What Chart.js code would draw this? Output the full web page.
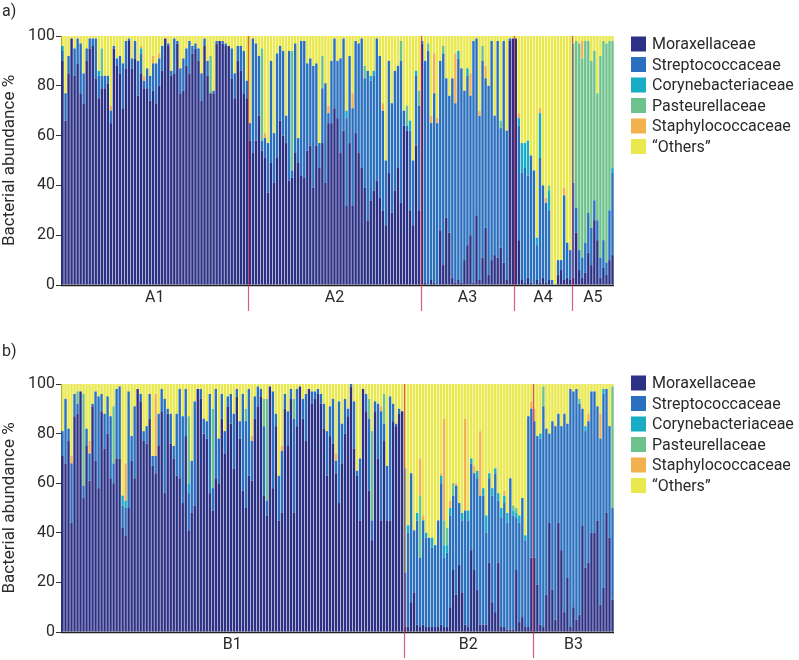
<!DOCTYPE html>
<html>
<head>
<meta charset="utf-8">
<script src="https://cdn.jsdelivr.net/npm/chart.js@4.4.1/dist/chart.umd.min.js"></script>
<style>
  body { margin: 0; background: #fff; width: 799px; height: 660px; overflow: hidden; }
  .panel { position: absolute; left: 0; width: 799px; height: 330px; }
</style>
</head>
<body>
<div class="panel" style="top:0"><canvas id="chartA" width="799" height="330"></canvas></div>
<div class="panel" style="top:330px"><canvas id="chartB" width="799" height="330"></canvas></div>
<script>
// families, colours
var families = ['Moraxellaceae', 'Streptococcaceae', 'Corynebacteriaceae', 'Pasteurellaceae', 'Staphylococcaceae', '\u201cOthers\u201d'];
var colors = ['#2c3185', '#2a70be', '#18acc5', '#6dc18a', '#f2b14c', '#e9e84c'];

// panel a groups
var aGroups = ['A1', 'A2', 'A3', 'A4', 'A5'];
var aGroupSizes = [62, 57, 31, 19, 14];

var aMorax = [
  // A1
  90,66,85,99,84,89,77,73,90,95, 96,83,75,79,79,81,65,95,88,85, 71,87,98,87,91,76,85,79,79,74,
  78,73,80,86,99,96,84,85,97,77, 78,88,85,93,95,90,74,96,84,77, 77,97,98,97,96,96,83,75,90,86, 77,75,
  // A2
  58,53,58,68,54,51,37,49,41,51, 66,60,57,42,43,53,49,44,43,54, 56,39,56,47,57,41,65,65,71,67,
  53,62,32,57,32,61,53,47,39,26, 34,38,42,35,30,24,45,29,38,47, 33,64,62,30,24,56,30,
  // A3
  97,1,0,2,1,0,22,8,27,21, 3,1,2,1,10,16,20,1,28,2, 11,23,4,10,12,11,15,9,2,98, 99,
  // A4
  99,18,2,1,3,1,0,2,1,3, 1,2,0,0,4,6,2,3,2,
  // A5
  3,21,6,3,5,13,8,26,18,3, 7,4,10,12
];
var aStrep = [
  4,11,7,0,11,10,20,12,5,4, 3,16,9,5,5,3,5,1,3,7, 18,11,1,4,7,14,8,3,8,10,
  11,16,11,10,0,1,2,14,1,10, 13,7,13,3,2,5,11,3,6,0, 1,1,0,1,1,0,12,10,6,10, 17,7,
  7,46,39,24,4,8,20,41,20,42, 30,34,11,52,3,44,10,54,55,35, 35,49,33,10,22,40,4,25,28,23,
  38,37,35,35,39,37,44,52,44,60, 48,46,57,57,40,26,45,44,48,41, 57,6,2,32,26,28,42,
  1,89,94,63,76,65,68,85,56,55, 80,72,89,86,68,68,56,97,71,66, 79,60,76,88,56,87,48,89,60,1, 0,
  0,46,43,46,41,51,46,14,50,37, 32,28,2,0,6,4,34,14,12,
  38,10,8,8,12,16,15,8,8,8, 11,5,20,33
];
var aCoryne = [
  2,0,0,0,0,0,0,0,0,0, 0,0,2,0,0,0,0,0,0,0, 0,0,0,0,0,0,2,0,0,0,
  0,0,0,0,0,0,0,0,0,0, 0,0,0,0,0,0,0,0,0,0, 0,0,0,0,0,0,0,0,0,0, 0,0,
  0,0,0,0,0,0,0,0,0,0, 0,0,0,0,0,0,0,0,0,0, 0,0,0,0,0,0,0,0,0,0,
  0,0,3,0,0,0,0,0,0,0, 2,2,0,0,0,0,0,0,0,0, 0,0,0,4,0,2,0,
  0,0,0,0,0,0,0,0,0,0, 0,0,3,0,0,3,0,0,0,0, 0,0,0,0,0,0,0,0,0,0, 0,
  0,3,12,10,14,0,0,3,18,0, 0,8,0,0,0,0,0,0,0,
  0,0,0,0,0,0,0,0,0,0, 0,0,0,2
];
var aPasteur = [
  0,0,0,0,0,0,0,0,0,0, 0,0,0,11,0,0,0,0,0,0, 0,0,0,0,0,0,0,0,0,0,
  0,0,0,0,0,0,0,0,0,0, 0,0,0,0,0,0,0,0,0,15, 0,0,0,0,0,0,0,0,0,0, 0,0,
  0,0,0,0,37,0,0,0,0,0, 0,0,0,0,48,0,0,0,0,0, 0,0,0,0,13,0,0,0,0,0,
  0,0,0,0,0,0,0,0,5,0, 0,0,0,0,0,0,0,0,0,0, 8,0,8,0,0,0,6,
  0,0,3,0,0,0,0,3,0,0, 0,0,0,0,0,0,0,0,0,0, 6,0,0,0,0,0,3,0,0,0, 0,
  0,0,0,0,0,0,0,0,0,0, 0,2,0,0,0,0,0,0,0,
  56,67,83,80,81,69,67,60,51,81, 80,88,68,51
];
var aStaph = [
  0,0,0,0,0,0,0,0,0,0, 0,0,0,0,0,0,2,0,0,0, 0,0,0,0,0,0,1,2,0,0,
  3,0,2,0,0,0,0,0,0,0, 0,0,0,0,0,0,0,0,0,0, 0,0,0,0,0,0,0,0,0,0, 0,0,
  0,0,0,0,0,2,0,0,0,0, 0,0,0,0,0,0,0,0,0,0, 0,0,0,0,0,0,3,0,0,0,
  0,0,0,0,6,0,0,0,0,0, 0,0,0,0,3,0,0,0,0,0, 0,0,0,0,0,0,0,
  0,0,0,3,16,2,0,0,0,0, 0,20,0,0,0,0,9,0,0,2, 0,5,0,0,0,0,0,0,0,0, 0,
  0,2,0,0,0,0,0,0,2,0, 2,0,0,0,0,0,3,0,0,
  0,0,0,7,0,0,0,0,0,0, 0,0,0,0
];
var aOthers = [
  4,23,8,1,5,1,3,15,5,1, 1,1,14,5,16,16,28,4,9,8, 11,2,1,9,2,10,4,16,13,16,
  8,11,7,4,1,3,14,1,2,13, 9,5,2,4,3,5,15,1,10,8, 22,2,2,2,3,4,5,15,4,4, 6,18,
  35,1,3,8,5,39,43,10,39,7, 4,6,32,6,6,3,41,2,2,11, 9,12,11,43,8,19,28,10,1,10,
  9,1,30,8,23,2,3,1,12,14, 16,14,1,8,27,50,10,27,14,12, 2,30,28,34,50,14,22,
  2,10,3,32,7,33,10,4,17,24, 17,7,6,13,22,13,15,2,1,30, 4,12,20,2,32,2,34,2,38,1, 1,
  1,31,43,43,42,48,54,81,29,60, 65,60,98,100,90,90,61,83,86,
  3,2,3,2,2,2,10,6,23,8, 2,3,2,2
];

// panel b groups
var bGroups = ['B1', 'B2', 'B3'];
var bGroupSizes = [114, 43, 27];

var bMorax = [
  // B1
  71,68,77,44,87,88,97,54,75,61, 91,69,58,89,74,80,62,60,70,70, 42,39,50,69,62,98,93,77,76,86,
  67,64,75,89,56,88,76,70,63,62, 52,79,41,48,51,98,94,80,78,56, 49,62,60,86,72,91,84,66,95,78,
  57,50,63,61,86,91,95,55,47,99, 58,83,45,48,90,75,94,48,83,99, 86,77,98,92,94,96,92,82,63,79,
  76,64,52,68,80,87, 99,74,63,45,98,89,57,37,89,70, 45,77,45,45,85,83,88,89,
  // B2
  2,2,12,16,3,2,3,2,2,2, 2,2,3,2,2,10,25,15,27,16, 3,2,33,25,17,3,3,3,28,12,
  8,28,2,2,1,1,1,25,4,6, 2,2,30,
  // B3
  30,19,3,2,15,44,17,5,44,33, 8,22,2,10,5,7,43,26,28,40, 40,45,11,18,48,38,13
];
var bStrep = [
  10,26,5,24,9,4,0,5,7,11, 1,28,37,7,14,15,25,8,28,29, 9,11,47,10,29,0,3,4,7,10,
  4,7,13,9,38,2,12,5,25,36, 35,19,15,21,42,0,4,6,7,40, 9,36,18,10,9,4,12,22,3,7,
  39,35,35,16,9,8,3,28,6,0, 39,5,18,25,6,14,4,38,15,0, 8,19,0,5,3,2,4,10,18,12,
  18,5,41,16,14,3, 1,19,2,25,0,7,29,8,4,22, 44,7,22,50,7,1,2,0,
  22,38,52,25,42,28,42,36,36,32, 33,43,57,28,30,37,30,44,25,29, 46,43,35,39,45,52,52,37,34,43,
  56,25,44,50,43,61,46,21,40,48, 35,85,60,
  55,60,75,89,67,36,68,78,44,50, 80,62,96,87,93,85,47,55,57,57, 57,46,67,78,50,45,37
];
var bCoryne = [
  0,0,0,0,0,0,0,0,0,0, 0,0,0,0,0,0,0,0,0,0, 4,3,0,0,0,0,0,0,0,0,
  0,0,0,0,0,0,0,0,0,0, 0,0,4,0,0,0,0,0,0,0, 0,0,0,0,0,0,0,0,0,0,
  0,0,0,0,0,0,0,0,0,0, 0,0,0,0,0,0,0,0,0,0, 0,0,0,0,0,0,0,0,0,0,
  0,0,0,0,0,0, 0,0,0,0,0,0,0,0,0,0, 0,0,0,0,0,0,0,0,
  0,3,0,0,3,0,0,2,0,4, 0,0,3,5,3,3,0,0,0,3, 0,4,2,0,3,0,3,7,2,3,
  2,3,4,3,4,0,2,2,3,0, 2,0,0,
  0,0,2,0,0,0,0,0,0,0, 0,0,0,0,0,0,0,2,0,0, 0,0,0,2,0,0,0
];
var bPasteur = [
  0,0,0,0,0,5,0,37,0,0, 0,0,0,0,0,0,0,23,0,0, 0,0,0,0,0,0,0,0,0,0,
  0,0,0,0,0,0,0,0,0,0, 0,0,27,0,0,0,0,0,0,0, 32,0,0,0,0,0,0,0,0,0,
  0,5,0,0,0,0,0,11,41,0, 0,0,0,0,0,0,0,8,0,0, 0,0,0,0,0,0,0,0,0,0,
  0,0,0,0,0,0, 0,0,0,0,0,0,8,36,0,0, 0,12,0,0,0,0,0,0,
  42,0,0,0,0,25,0,0,0,0, 0,0,0,10,7,0,5,0,0,0, 0,0,0,0,0,0,0,0,0,0,
  0,0,0,0,0,0,2,2,0,0, 0,0,0,
  0,0,0,8,0,0,0,0,0,0, 0,0,0,0,0,2,0,0,0,0, 0,0,0,0,0,0,49
];
var bStaph = [
  0,0,0,3,0,0,0,0,0,5, 0,0,0,0,0,0,0,0,0,0, 0,15,0,0,0,0,0,0,0,0,
  0,25,0,0,0,0,0,0,0,0, 0,0,0,0,0,0,0,0,0,0, 0,0,0,0,0,0,0,0,0,0,
  0,0,0,2,0,0,0,0,0,0, 0,0,0,2,0,0,0,0,0,0, 0,0,0,0,0,0,0,0,0,0,
  0,3,0,0,0,0, 0,0,0,0,0,0,0,0,0,0, 2,0,0,0,0,0,0,0,
  0,0,0,0,0,15,2,0,0,0, 0,0,1,41,0,3,0,1,0,0, 37,0,0,3,0,26,0,0,0,0,
  0,0,0,2,0,0,0,0,0,0, 0,0,3,
  5,0,0,0,0,0,0,0,0,0, 0,0,0,0,0,0,0,0,3,0, 0,0,10,0,0,0,0
];
var bOthers = [
  19,6,18,29,4,3,3,4,18,23, 8,3,5,4,12,5,13,9,2,1, 45,32,3,21,9,2,4,19,17,4,
  29,4,12,2,6,10,12,25,12,2, 13,2,13,31,7,2,2,14,15,4, 10,2,22,4,19,5,4,12,2,15,
  4,10,2,21,5,1,2,6,6,1, 3,12,37,25,4,11,2,6,2,1, 6,4,2,3,3,2,4,8,19,9,
  6,28,7,16,6,10, 0,7,35,30,2,4,6,19,7,8, 9,4,33,5,8,16,10,11,
  34,57,36,59,52,30,53,60,62,62, 65,55,36,14,58,47,40,40,48,52, 14,51,30,33,35,19,42,53,36,42,
  34,44,50,43,52,38,49,50,53,46, 61,13,7,
  10,21,20,1,18,20,15,17,12,17, 12,16,2,3,2,6,10,17,12,3, 3,9,12,2,2,17,1
];

var font = 'Roboto, "Liberation Sans", sans-serif';
var textColor = '#2a2a2a';

// draws axis base line, group separators + labels, legend and panel letter
var overlay = {
  id: 'overlay',
  afterDatasetsDraw: function(chart, args, opts) {
    var ctx = chart.ctx, ca = chart.chartArea, x = chart.scales.x;
    var n = chart.data.labels.length;
    function edge(i) {
      if (i <= 0) return ca.left;
      if (i >= n) return ca.right;
      return (x.getPixelForValue(i - 1) + x.getPixelForValue(i)) / 2;
    }
    ctx.save();
    ctx.strokeStyle = '#222';
    ctx.lineWidth = 1.3;
    ctx.beginPath();
    ctx.moveTo(ca.left, ca.bottom + 0.5);
    ctx.lineTo(ca.right, ca.bottom + 0.5);
    ctx.stroke();

    var start = 0;
    ctx.font = '16px ' + font;
    ctx.fillStyle = textColor;
    ctx.textAlign = 'center';
    ctx.textBaseline = 'middle';
    opts.groups.forEach(function(g, k) {
      var end = start + opts.sizes[k];
      ctx.fillText(g, (edge(start) + edge(end)) / 2, ca.bottom + 13);
      if (k < opts.groups.length - 1) {
        var xp = Math.round(edge(end)) + 0.5;
        ctx.strokeStyle = 'rgba(205,40,75,0.75)';
        ctx.lineWidth = 1.2;
        ctx.beginPath();
        ctx.moveTo(xp, ca.top);
        ctx.lineTo(xp, ca.bottom + 26);
        ctx.stroke();
      }
      start = end;
    });

    // legend
    ctx.textAlign = 'left';
    families.forEach(function(f, k) {
      var yc = opts.legendY + k * 20.5;
      ctx.fillStyle = colors[k];
      ctx.fillRect(631, yc - 7.5, 15, 15);
      ctx.fillStyle = textColor;
      ctx.fillText(f, 652, yc + 1);
    });

    ctx.fillText(opts.letter, 2, opts.letterY);
    ctx.restore();
  }
};

function makeChart(id, series, groups, sizes, area) {
  var labels = series[0].map(function(v, i) { return i + 1; });
  return new Chart(document.getElementById(id), {
    type: 'bar',
    data: {
      labels: labels,
      datasets: families.map(function(f, k) {
        return {
          label: f,
          data: series[k],
          backgroundColor: colors[k],
          borderWidth: 0,
          barPercentage: 0.8,
          categoryPercentage: 1
        };
      })
    },
    plugins: [overlay],
    options: {
      responsive: false,
      animation: false,
      layout: { padding: { left: 0, right: 185, top: area.top, bottom: 330 - area.bottom } },
      plugins: {
        legend: { display: false },
        tooltip: { enabled: false },
        overlay: { groups: groups, sizes: sizes, legendY: area.legendY, letter: area.letter, letterY: area.letterY }
      },
      scales: {
        x: { stacked: true, display: false },
        y: {
          stacked: true,
          min: 0,
          max: 100,
          ticks: { stepSize: 20, color: textColor, padding: 1, font: { family: font, size: 16 } },
          grid: { drawOnChartArea: false, drawTicks: true, tickLength: 5, color: '#333' },
          border: { display: true, color: '#333' },
          title: {
            display: true,
            text: 'Bacterial abundance %',
            color: textColor,
            padding: { top: 0, bottom: 0 },
            font: { family: font, size: 17 }
          },
          afterFit: function(scale) { scale.width = 61; }
        }
      }
    }
  });
}

makeChart('chartA', [aMorax, aStrep, aCoryne, aPasteur, aStaph, aOthers], aGroups, aGroupSizes,
  { top: 36, bottom: 285, legendY: 44, letter: 'a)', letterY: 12 });
makeChart('chartB', [bMorax, bStrep, bCoryne, bPasteur, bStaph, bOthers], bGroups, bGroupSizes,
  { top: 54, bottom: 302, legendY: 53, letter: 'b)', letterY: 22 });
</script>
</body>
</html>
